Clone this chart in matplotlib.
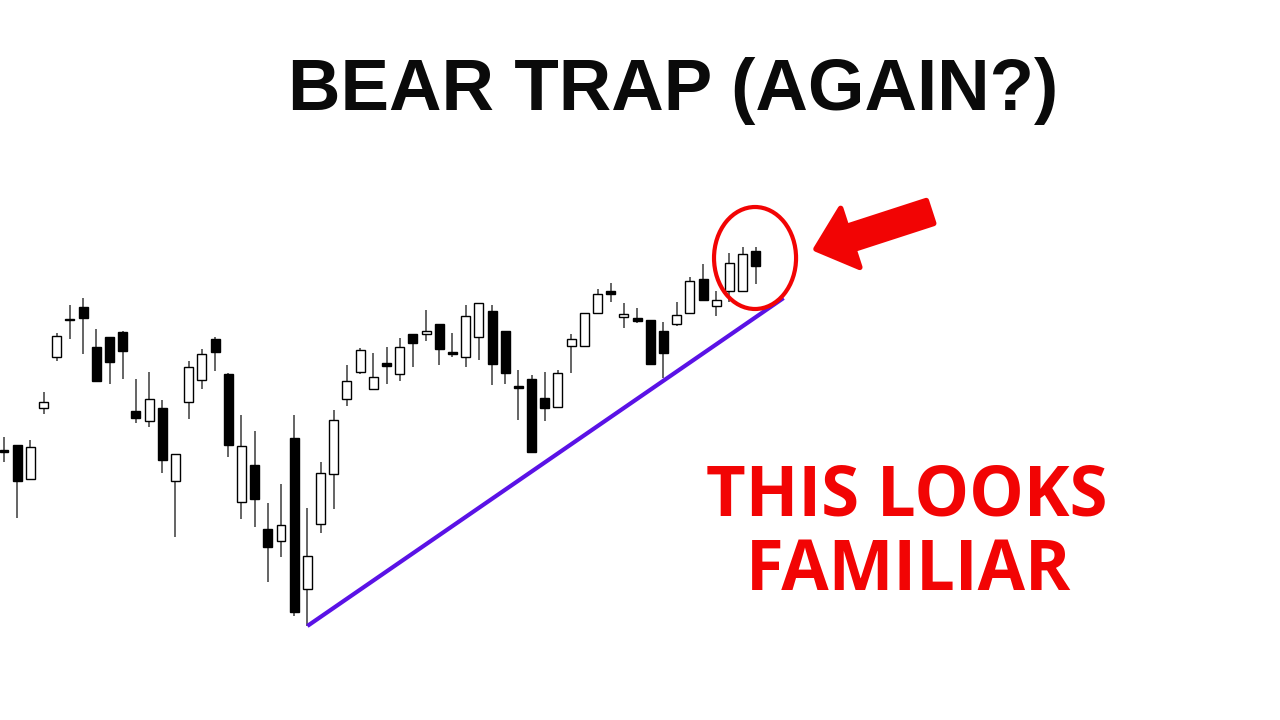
import matplotlib
matplotlib.use("Agg")
import matplotlib.pyplot as plt
from matplotlib.patches import Ellipse, FancyArrow

# ---- candle data (index-like levels) ----
opens  = [250,255,221,292,343,380,393,353,363,368,289,279,292,219,298,320,361,326,198,235,
          171,159,262,111,176,226,301,328,311,337,326,366,366,376,348,343,363,389,369,314,
          321,302,293,354,354,387,409,383,382,380,369,376,387,421,394,409,409,449]
highs  = [263,255,260,308,367,395,402,371,363,369,321,328,300,246,339,351,363,327,285,269,
          197,216,285,192,238,290,335,352,347,353,362,366,390,376,367,395,397,395,369,330,
          325,328,330,366,387,411,417,397,392,380,378,398,423,436,409,447,453,453]
lows   = [238,182,220,286,339,361,346,319,316,321,277,273,227,163,281,311,329,243,181,173,
          118,143, 84, 74,167,191,294,326,311,316,319,333,359,335,343,333,340,315,316,280,
          248,279,293,327,354,387,398,372,377,336,322,374,387,400,384,398,409,416]
closes = [248,219,253,298,364,380,382,319,338,349,282,301,240,246,333,346,348,255,254,201,
          153,175, 88,144,227,280,319,350,323,334,353,357,369,351,346,384,397,336,327,312,
          248,292,327,361,387,406,406,386,379,336,347,385,419,400,400,437,446,434]

# trend line (support) endpoints
trend_x = [23, 59.1]
trend_y = [74, 402]

title = "BEAR TRAP (AGAIN?)"
caption = ["THIS LOOKS", "FAMILIAR"]

RED = "#f20404"

fig = plt.figure(figsize=(12.8, 7.2), dpi=100)
fig.patch.set_facecolor("white")
ax = fig.add_axes([0, 0, 1, 1])
ax.set_xlim(-0.303, 96.74)
ax.set_ylim(-20, 700)
ax.axis("off")

n = len(opens)
xs = list(range(n))
ax.vlines(xs, lows, highs, color="#3a3a3a", linewidth=1.1, zorder=2)
bottoms = [min(o, c) for o, c in zip(opens, closes)]
heights = [max(abs(c - o), 0.6) for o, c in zip(opens, closes)]
colors = ["white" if c > o else "black" for o, c in zip(opens, closes)]
ax.bar(xs, heights, bottom=bottoms, width=0.68, color=colors,
       edgecolor="black", linewidth=1.0, zorder=3)

ax.plot(trend_x, trend_y, color="#5a12e6", linewidth=3, solid_capstyle="butt", zorder=4)

ell = Ellipse((56.94, 442), width=6.22, height=102, fill=False,
              edgecolor=RED, linewidth=3, zorder=5)
ax.add_patch(ell)

# overlay in pixel units for the arrow
ax2 = fig.add_axes([0, 0, 1, 1])
ax2.set_xlim(0, 1280)
ax2.set_ylim(720, 0)
ax2.axis("off")
ax2.patch.set_alpha(0)
arr = FancyArrow(930, 212, 816 - 930, 249 - 212, width=24, head_width=62,
                 head_length=36, length_includes_head=True, facecolor=RED,
                 edgecolor=RED, linewidth=4, joinstyle="round")
ax2.add_patch(arr)

fig.text(673 / 1280, 1 - 110 / 720, title, ha="center", va="baseline",
         fontsize=52.4, fontweight="bold", family="Liberation Sans", color="#0a0a0a")
fig.text(907 / 1280, 1 - 516 / 720, caption[0], ha="center", va="baseline",
         fontsize=49.5, fontweight="bold", family="Open Sans", color=RED)
fig.text(909 / 1280, 1 - 590 / 720, caption[1], ha="center", va="baseline",
         fontsize=49.5, fontweight="bold", family="Open Sans", color=RED)

fig.savefig("out.png", dpi=100, facecolor="white")
